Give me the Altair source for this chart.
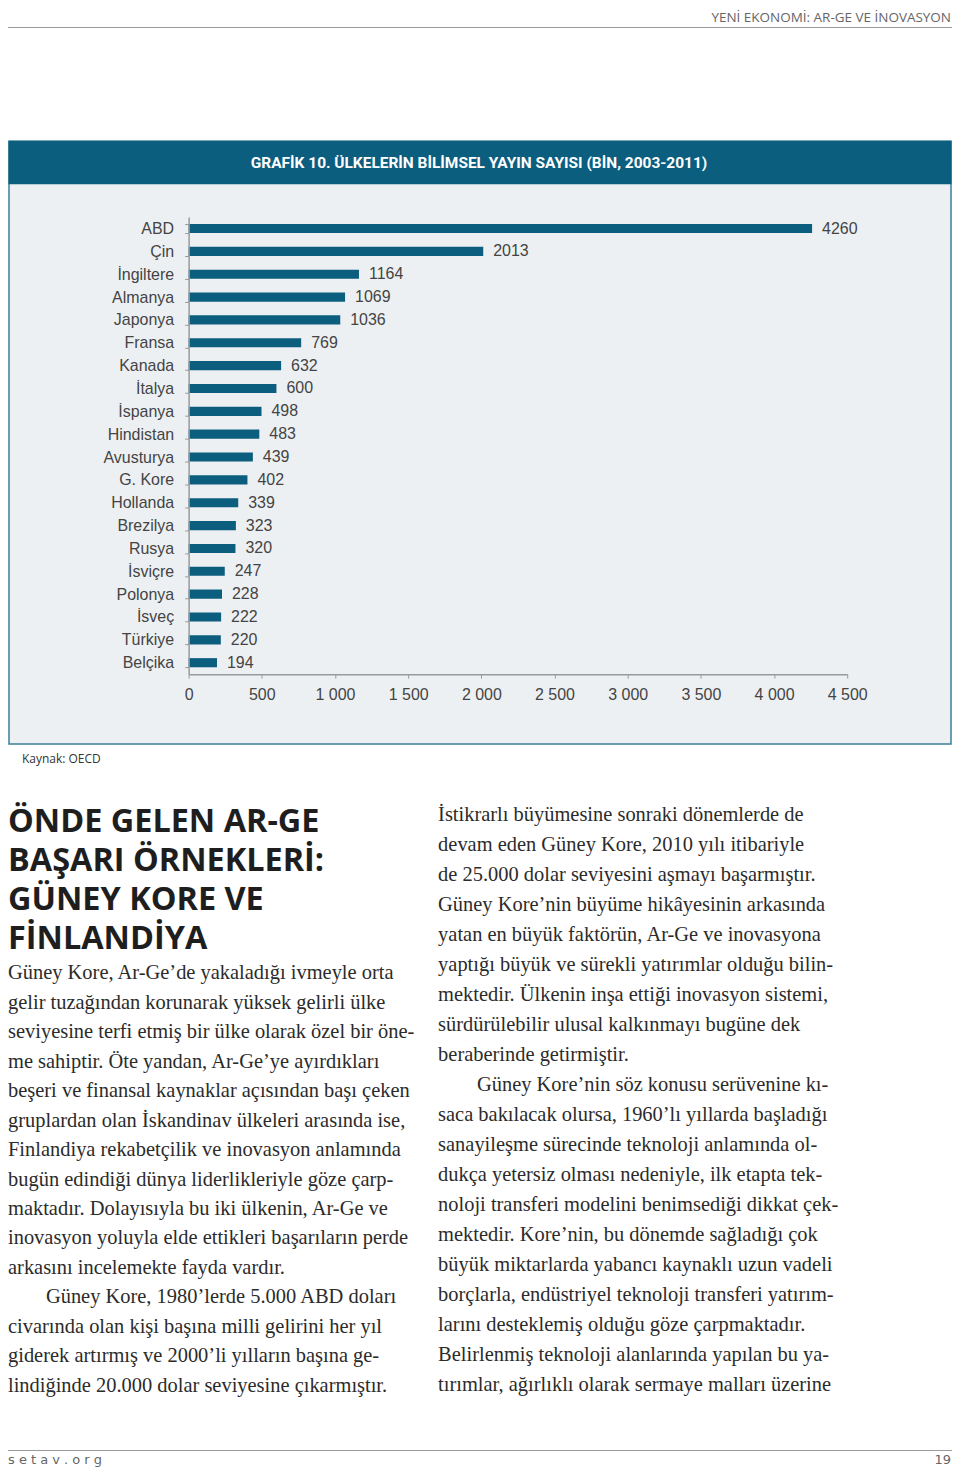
import altair as alt
import pandas as pd

# ---------------- data ----------------
countries = ["ABD", "Çin", "İngiltere", "Almanya", "Japonya", "Fransa", "Kanada",
             "İtalya", "İspanya", "Hindistan", "Avusturya", "G. Kore", "Hollanda",
             "Brezilya", "Rusya", "İsviçre", "Polonya", "İsveç", "Türkiye", "Belçika"]
values = [4260, 2013, 1164, 1069, 1036, 769, 632, 600, 498, 483, 439, 402, 339,
          323, 320, 247, 228, 222, 220, 194]
x_ticks = [0, 500, 1000, 1500, 2000, 2500, 3000, 3500, 4000, 4500]

header_text = "YENİ EKONOMİ: AR-GE VE İNOVASYON"
chart_title = "GRAFİK 10. ÜLKELERİN BİLİMSEL YAYIN SAYISI (BİN, 2003-2011)"
source_text = "Kaynak: OECD"
heading_lines = ["ÖNDE GELEN AR-GE", "BAŞARI ÖRNEKLERİ:", "GÜNEY KORE VE", "FİNLANDİYA"]
left_p1 = [
    "Güney Kore,  Ar-Ge’de yakaladığı ivmeyle orta",
    "gelir tuzağından korunarak yüksek gelirli ülke",
    "seviyesine terfi etmiş bir ülke olarak özel bir öne-",
    "me sahiptir. Öte yandan, Ar-Ge’ye ayırdıkları",
    "beşeri ve finansal kaynaklar açısından başı çeken",
    "gruplardan olan İskandinav ülkeleri arasında ise,",
    "Finlandiya rekabetçilik ve inovasyon anlamında",
    "bugün edindiği dünya liderlikleriyle göze çarp-",
    "maktadır. Dolayısıyla bu iki ülkenin, Ar-Ge ve",
    "inovasyon yoluyla elde ettikleri başarıların perde",
    "arkasını incelemekte fayda vardır.",
]
left_p2_first = ["Güney Kore, 1980’lerde 5.000 ABD doları"]
left_p2_rest = [
    "civarında olan kişi başına milli gelirini her yıl",
    "giderek artırmış ve 2000’li yılların başına ge-",
    "lindiğinde 20.000 dolar seviyesine çıkarmıştır.",
]
right_p1 = [
    "İstikrarlı büyümesine sonraki dönemlerde de",
    "devam eden Güney Kore, 2010 yılı itibariyle",
    "de 25.000 dolar seviyesini aşmayı başarmıştır.",
    "Güney Kore’nin büyüme hikâyesinin arkasında",
    "yatan en büyük faktörün, Ar-Ge ve inovasyona",
    "yaptığı büyük ve sürekli yatırımlar olduğu bilin-",
    "mektedir. Ülkenin inşa ettiği inovasyon sistemi,",
    "sürdürülebilir ulusal kalkınmayı bugüne dek",
    "beraberinde getirmiştir.",
]
right_p2_first = ["Güney Kore’nin söz konusu serüvenine kı-"]
right_p2_rest = [
    "saca bakılacak olursa, 1960’lı yıllarda başladığı",
    "sanayileşme sürecinde teknoloji anlamında ol-",
    "dukça yetersiz olması nedeniyle, ilk etapta tek-",
    "noloji transferi modelini benimsediği dikkat çek-",
    "mektedir. Kore’nin, bu dönemde sağladığı çok",
    "büyük miktarlarda yabancı kaynaklı uzun vadeli",
    "borçlarla, endüstriyel teknoloji transferi yatırım-",
    "larını desteklemiş olduğu göze çarpmaktadır.",
    "Belirlenmiş teknoloji alanlarında yapılan bu ya-",
    "tırımlar, ağırlıklı olarak sermaye malları üzerine",
]
footer_left = "s e t a v . o r g"
footer_right = "19"

# ---------------- layout ----------------
W, H = 946, 1460
TEAL = "#0c5e7f"
PANEL = "#edf0f3"
GRAY_LINE = "#9a9a9a"
AXIS_Y = 666   # pixel row of x axis
AXIS_X = 181   # pixel column of y axis

df = pd.DataFrame({"country": countries, "value": values})
one = pd.DataFrame({"d": [0]})


def text_block(lines, x, y, **kw):
    return alt.Chart(one).mark_text(text=lines, align=kw.pop("align", "left"),
                                    baseline=kw.pop("baseline", "alphabetic"), **kw).encode(
        x=alt.value(x), y=alt.value(y))


# decorations
header = text_block([header_text], 945, 12, align="right", font="Open Sans",
                    fontSize=13.5, color="#666666")
header_rule = alt.Chart(one).mark_rule(color=GRAY_LINE, strokeWidth=1).encode(
    x=alt.value(0), x2=alt.value(W), y=alt.value(18))
panel = alt.Chart(one).mark_rect(fill=PANEL, stroke="#3c7f98", strokeWidth=1.5).encode(
    x=alt.value(1), x2=alt.value(W - 1), y=alt.value(132), y2=alt.value(736))
title_bar = alt.Chart(one).mark_rect(fill=TEAL).encode(
    x=alt.value(0.5), x2=alt.value(W - 0.5), y=alt.value(131.5), y2=alt.value(175))
title_txt = text_block([chart_title], 472, 154, align="center", baseline="middle",
                       font="Roboto", fontWeight="bold", fontSize=15.5, color="white")

# bars
x_enc = alt.X("value:Q",
              scale=alt.Scale(domain=[0, 4500], range=[AXIS_X, 841], nice=False, zero=True),
              axis=alt.Axis(values=x_ticks, title=None, grid=False,
                            labelExpr="replace(format(datum.value, ','), ',', ' ')",
                            offset=AXIS_Y - H, zindex=1,
                            domainColor=GRAY_LINE, domainWidth=1.5,
                            tickColor=GRAY_LINE, tickSize=4,
                            labelFont="Liberation Sans", labelFontSize=16,
                            labelColor="#444444", labelPadding=8, labelFlush=False))
y_enc = alt.Y("country:N", sort=countries,
              scale=alt.Scale(range=[208, AXIS_Y], paddingInner=0.6, paddingOuter=0.3),
              axis=alt.Axis(title=None, offset=-AXIS_X, zindex=1, tickBand="extent",
                            domainColor=GRAY_LINE, domainWidth=1.5,
                            tickColor=GRAY_LINE, tickSize=4,
                            labelFont="Liberation Sans", labelFontSize=16,
                            labelColor="#444444", labelPadding=11))

bars = alt.Chart(df).mark_bar(color=TEAL).encode(x=x_enc, y=y_enc)
labels = alt.Chart(df).mark_text(align="left", baseline="middle", dx=10,
                                 font="Liberation Sans", fontSize=16,
                                 color="#444444").encode(
    x=x_enc, y=y_enc, text=alt.Text("value:Q", format="d"))

source = text_block([source_text], 14, 755, font="Open Sans", fontSize=12, color="#333333")

heading = text_block(heading_lines, 0, 824, font="Open Sans", fontWeight="bold",
                     fontSize=32.5, lineHeight=39.3, color="#1e1e1e")

body_kw = dict(font="Liberation Serif", fontSize=20.5, color="#2b2b2b")
LH_L, LH_R = 29.5, 30.05
yl = 972
l1 = text_block(left_p1, 0, yl, lineHeight=LH_L, **body_kw)
l2 = text_block(left_p2_first, 38, yl + 11 * LH_L, **body_kw)
l3 = text_block(left_p2_rest, 0, yl + 12 * LH_L, lineHeight=LH_L, **body_kw)
yr = 813
r1 = text_block(right_p1, 431, yr, lineHeight=LH_R, **body_kw)
r2 = text_block(right_p2_first, 470, yr + 9 * LH_R, **body_kw)
r3 = text_block(right_p2_rest, 431, yr + 10 * LH_R, lineHeight=LH_R, **body_kw)

footer_rule = alt.Chart(one).mark_rule(color=GRAY_LINE, strokeWidth=1).encode(
    x=alt.value(0), x2=alt.value(W), y=alt.value(1444))
f_left = text_block([footer_left], 0, 1458, font="DejaVu Sans", fontSize=13, color="#666666")
f_right = text_block([footer_right], 945, 1458, align="right", font="DejaVu Sans",
                     fontSize=13, color="#666666")

chart = alt.layer(
    panel, title_bar, title_txt, header, header_rule,
    bars, labels, source, heading, l1, l2, l3, r1, r2, r3,
    footer_rule, f_left, f_right,
).properties(
    width=W, height=H, padding=0, background="white",
    autosize=alt.AutoSizeParams(type="none"),
).configure_view(stroke=None)

chart.save("out.html", embed_options={"renderer": "svg", "actions": False})
